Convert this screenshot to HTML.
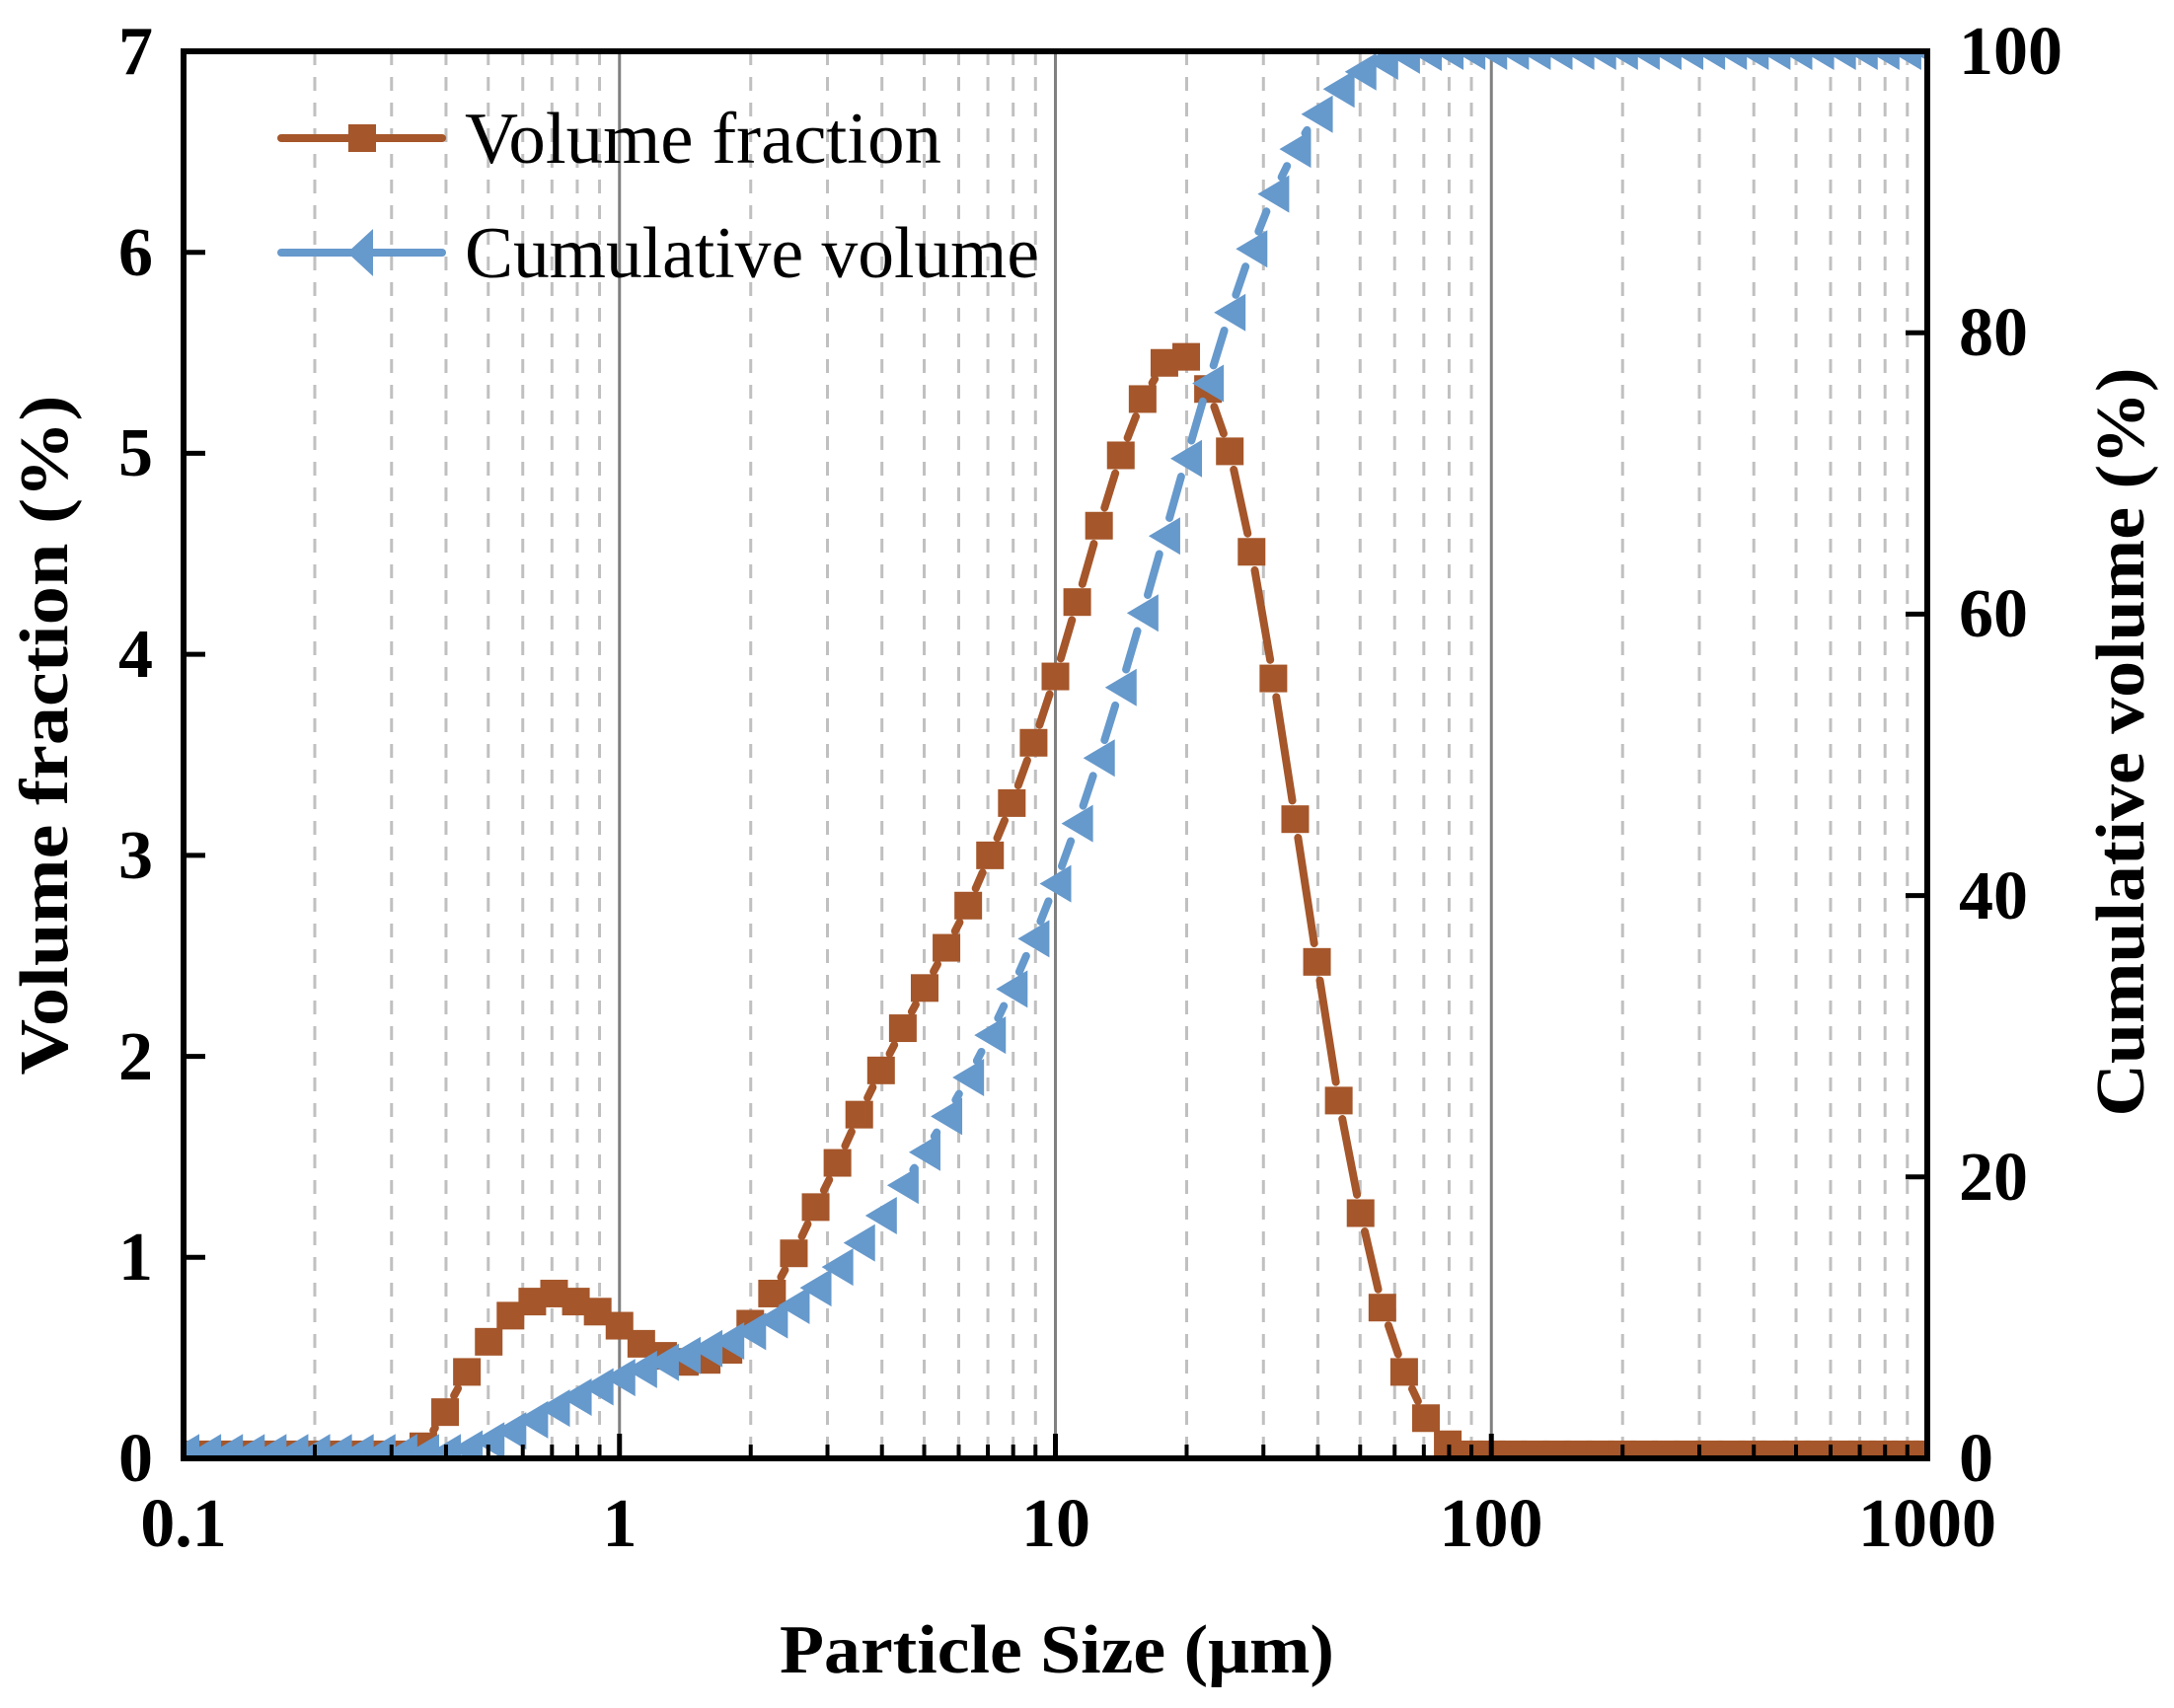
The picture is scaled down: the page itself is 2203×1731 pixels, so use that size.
<!DOCTYPE html>
<html><head><meta charset="utf-8"><style>
html,body{margin:0;padding:0;background:#fff;}
svg{display:block;}
text{font-family:"Liberation Serif",serif;}
</style></head><body>
<svg id="s" width="2203" height="1731" viewBox="0 0 2203 1731" xmlns="http://www.w3.org/2000/svg">
<defs><clipPath id="cp"><rect x="186" y="52" width="1767" height="1426"/></clipPath></defs>
<g id="grid"></g>
<g id="series" clip-path="url(#cp)"></g>
<rect x="186" y="52" width="1767" height="1426" fill="none" stroke="#000" stroke-width="6"/>
<g id="ticks"></g>
<g font-weight="bold" font-size="70" fill="#000">
<text x="155" y="1501" text-anchor="end">0</text>
<text x="155" y="1297" text-anchor="end">1</text>
<text x="155" y="1094" text-anchor="end">2</text>
<text x="155" y="890" text-anchor="end">3</text>
<text x="155" y="686" text-anchor="end">4</text>
<text x="155" y="482" text-anchor="end">5</text>
<text x="155" y="279" text-anchor="end">6</text>
<text x="155" y="75" text-anchor="end">7</text>
<text x="1985" y="1501">0</text>
<text x="1985" y="1216">20</text>
<text x="1985" y="931">40</text>
<text x="1985" y="645">60</text>
<text x="1985" y="360">80</text>
<text x="1985" y="75">100</text>
<text x="186" y="1567" text-anchor="middle">0.1</text>
<text x="628" y="1567" text-anchor="middle">1</text>
<text x="1070" y="1567" text-anchor="middle">10</text>
<text x="1511" y="1567" text-anchor="middle">100</text>
<text x="1953" y="1567" text-anchor="middle">1000</text>
<text x="1071" y="1695" text-anchor="middle" textLength="562" lengthAdjust="spacingAndGlyphs">Particle Size (μm)</text>
<text transform="translate(68,745) rotate(-90)" text-anchor="middle" textLength="689" lengthAdjust="spacingAndGlyphs">Volume fraction (%)</text>
<text transform="translate(2172,752) rotate(-90)" text-anchor="middle" textLength="759" lengthAdjust="spacingAndGlyphs">Cumulative volume (%)</text>
</g>
<g font-size="74" fill="#000">
<line x1="285" y1="140" x2="448" y2="140" stroke="#A5562A" stroke-width="8" stroke-linecap="round"/>
<rect x="353" y="126" width="28" height="28" fill="#A5562A"/>
<text x="471" y="165" textLength="483" lengthAdjust="spacingAndGlyphs">Volume fraction</text>
<line x1="285" y1="256" x2="448" y2="256" stroke="#6699CC" stroke-width="8" stroke-linecap="round"/>
<polygon points="352,256 378,232 378,280" fill="#6699CC"/>
<text x="471" y="281" textLength="582" lengthAdjust="spacingAndGlyphs">Cumulative volume</text>
</g>
</svg>
<script>
(function(){
var L=186,R=1953,T=52,B=1478,W=R-L,H=B-T,NS="http://www.w3.org/2000/svg";
function X(v){return L+(Math.log10(v)+1)/4*W;}
function el(p,n,a){var e=document.createElementNS(NS,n);for(var k in a)e.setAttribute(k,a[k]);p.appendChild(e);return e;}
var g=document.getElementById('grid'),tk=document.getElementById('ticks');
for(var d=-1;d<3;d++){for(var m=1;m<=9;m++){var v=m*Math.pow(10,d),x=X(v);
 if(m==1){if(d>-1){el(g,'line',{x1:x,y1:T,x2:x,y2:B,stroke:'#808080','stroke-width':3});el(tk,'line',{x1:x,y1:B,x2:x,y2:B-25,stroke:'#000','stroke-width':5});}}
 else{el(g,'line',{x1:x,y1:T,x2:x,y2:B,stroke:'#c0c0c0','stroke-width':3,'stroke-dasharray':'14 12'});el(tk,'line',{x1:x,y1:B,x2:x,y2:B-14,stroke:'#000','stroke-width':4});}
}}
for(var i=1;i<7;i++){var y=B-i/7*H;el(tk,'line',{x1:L,y1:y,x2:L+22,y2:y,stroke:'#000','stroke-width':5});}
for(var i=1;i<5;i++){var y=B-i/5*H;el(tk,'line',{x1:R,y1:y,x2:R-22,y2:y,stroke:'#000','stroke-width':5});}
var vf=[0.02,0.02,0.02,0.02,0.02,0.02,0.02,0.02,0.02,0.02,0.02,0.06,0.23,0.43,0.58,0.71,0.78,0.82,0.78,0.73,0.66,0.57,0.51,0.48,0.49,0.54,0.67,0.82,1.02,1.25,1.47,1.71,1.93,2.14,2.34,2.54,2.75,3.00,3.26,3.56,3.89,4.26,4.64,4.99,5.27,5.45,5.48,5.32,5.01,4.51,3.88,3.18,2.47,1.78,1.22,0.75,0.43,0.20,0.07,0.02];
while(vf.length<81)vf.push(0.02);
var cum=[],s=0,tot=0;for(var i=12;i<81;i++)tot+=(vf[i]>0.03?vf[i]:0);
for(var i=0;i<81;i++){if(i>=12&&vf[i]>0.03)s+=vf[i];cum.push(Math.max(0.4,s/tot*100));}
var sg=document.getElementById('series');
function pts(arr,sc){var p=[];for(var i=0;i<81;i++){p.push([L+i*W/80,B-arr[i]/sc*H]);}return p;}
function line(p,col){for(var i=0;i<p.length-1;i++){var a=p[i],b=p[i+1],dx=b[0]-a[0],dy=b[1]-a[1],l=Math.hypot(dx,dy),g2=19;
 if(l>2*g2+2){el(sg,'line',{x1:a[0]+dx/l*g2,y1:a[1]+dy/l*g2,x2:b[0]-dx/l*g2,y2:b[1]-dy/l*g2,stroke:col,'stroke-width':8,'stroke-linecap':'round'});}}}
var pv=pts(vf,7),pc=pts(cum,100);
line(pv,'#A5562A');
pv.forEach(function(p){el(sg,'rect',{x:p[0]-14,y:p[1]-14,width:28,height:28,fill:'#A5562A'});});
line(pc,'#6699CC');
pc.forEach(function(p){el(sg,'polygon',{points:(p[0]-16)+','+p[1]+' '+(p[0]+16)+','+(p[1]-19)+' '+(p[0]+16)+','+(p[1]+19),fill:'#6699CC'});});
})();
</script>
</body></html>
